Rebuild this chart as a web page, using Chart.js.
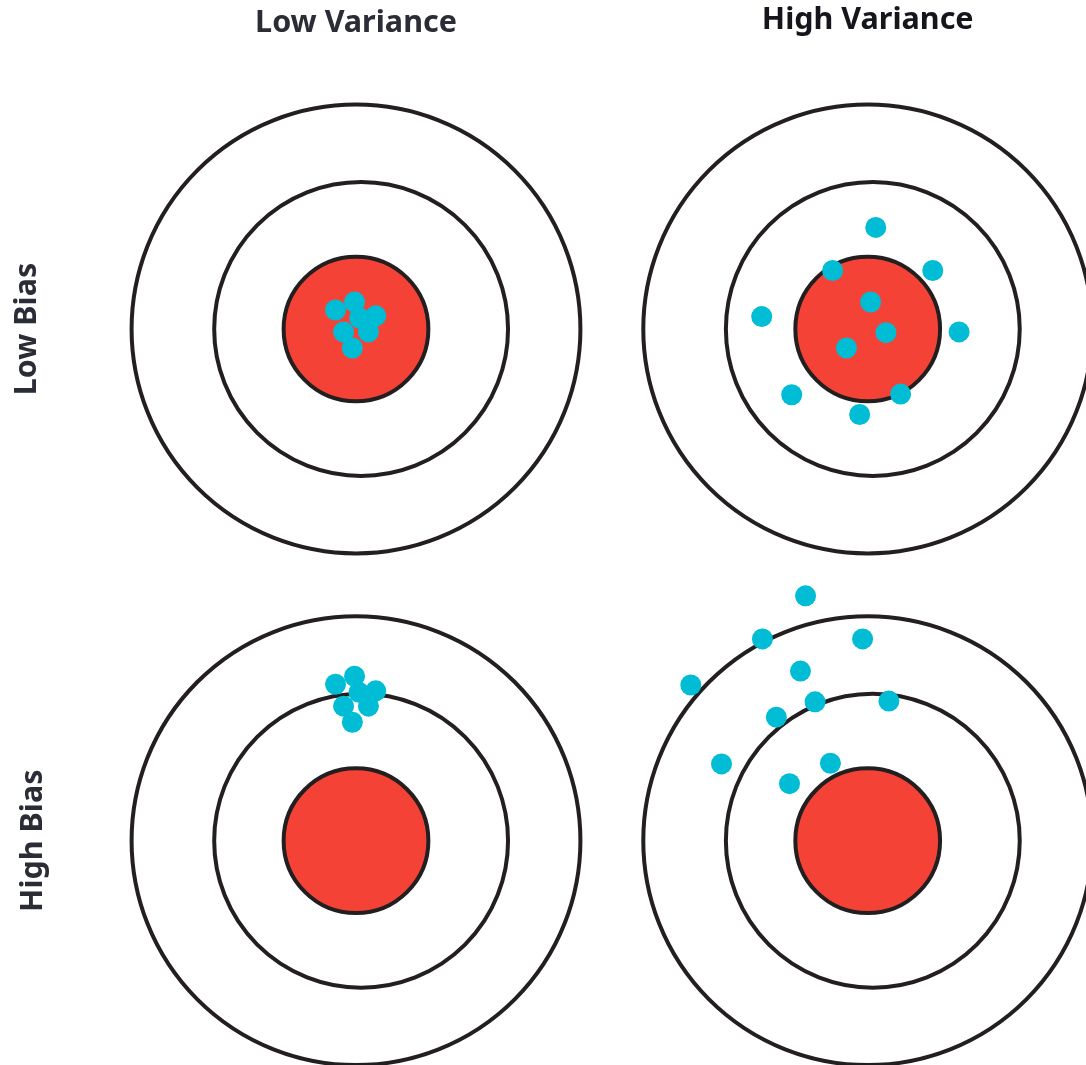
<!DOCTYPE html>
<html>
<head>
<meta charset="utf-8">
<script src="https://cdn.jsdelivr.net/npm/chart.js@4.4.0/dist/chart.umd.min.js"></script>
<style>
    html, body { margin: 0; padding: 0; background: #fff; }
    #wrap { width: 1086px; height: 1065px; }
</style>
</head>
<body>
<div id="wrap"><canvas id="targets" width="1086" height="1065"></canvas></div>
<script>
// headings
var colLabels = ['Low Variance', 'High Variance'];
var rowLabels = ['Low Bias', 'High Bias'];

// target centres in target units (1 unit = bullseye radius)
var colCenters = [0, 7];
var rowCenters = [0, -7];

// outer, middle, bullseye
var ringRadii = [3.07, 2.01, 0.99];
// the middle ring sits a little right of centre in the original
var ringShiftX = [0, 0.07, 0];

// shots, offsets from each target centre
var lowBiasLowVarX = [-0.28, -0.02, 0.27, 0.05, -0.17, 0.17, -0.05];
var lowBiasLowVarY = [0.26, 0.37, 0.18, 0.15, -0.04, -0.04, -0.26];

var lowBiasHighVarX = [0.11, -0.48, 0.89, 0.04, -1.45, 0.25, 1.25, -0.29, -1.04, 0.45, -0.11];
var lowBiasHighVarY = [1.39, 0.80, 0.80, 0.37, 0.17, -0.05, -0.04, -0.26, -0.90, -0.89, -1.17];

var highBiasLowVarX = [-0.28, -0.02, 0.27, 0.04, -0.17, 0.17, -0.05];
var highBiasLowVarY = [2.14, 2.25, 2.05, 2.03, 1.84, 1.84, 1.62];

var highBiasHighVarX = [-0.85, -1.44, -0.07, -2.42, -0.92, -0.72, 0.29, -1.25, -2.00, -0.51, -1.07];
var highBiasHighVarY = [3.35, 2.76, 2.76, 2.13, 2.32, 1.90, 1.91, 1.69, 1.05, 1.06, 0.78];

var ringColor = '#231f20';
var bullColor = '#f44336';
var shotColor = '#00bcd4';
var labelColors = ['#2a2c36', '#15161b'];

var pxPerUnit = 73.1;

function shiftShots(xs, ys, col, row) {
    var out = [];
    for (var i = 0; i < xs.length; i++) {
        out.push({ x: colCenters[col] + xs[i], y: rowCenters[row] + ys[i] });
    }
    return out;
}

function targetCenters(dx) {
    var out = [];
    for (var r = 0; r < rowCenters.length; r++) {
        for (var c = 0; c < colCenters.length; c++) {
            out.push({ x: colCenters[c] + dx, y: rowCenters[r] });
        }
    }
    return out;
}

var shots = []
    .concat(shiftShots(lowBiasLowVarX, lowBiasLowVarY, 0, 0))
    .concat(shiftShots(lowBiasHighVarX, lowBiasHighVarY, 1, 0))
    .concat(shiftShots(highBiasLowVarX, highBiasLowVarY, 0, 1))
    .concat(shiftShots(highBiasHighVarX, highBiasHighVarY, 1, 1));

// radius in pixels from the x scale
function ringRadius(units) {
    return function (ctx) {
        var s = ctx.chart.scales.x;
        return Math.abs(s.getPixelForValue(units) - s.getPixelForValue(0));
    };
}

function ringDataset(k, fill, order) {
    return {
        data: targetCenters(ringShiftX[k]),
        pointRadius: ringRadius(ringRadii[k]),
        pointHoverRadius: ringRadius(ringRadii[k]),
        backgroundColor: fill,
        borderColor: ringColor,
        borderWidth: 4,
        pointHoverBorderWidth: 4,
        clip: false,
        order: order
    };
}

// headings drawn next to the scale positions
var headings = {
    id: 'headings',
    afterDraw: function (chart) {
        var ctx = chart.ctx;
        var xs = chart.scales.x, ys = chart.scales.y;
        ctx.save();
        ctx.font = 'bold 30.5px "Noto Sans"';
        ctx.textAlign = 'center';
        ctx.textBaseline = 'middle';
        for (var i = 0; i < colLabels.length; i++) {
            ctx.fillStyle = labelColors[i];
            ctx.fillText(colLabels[i], xs.getPixelForValue(colCenters[i]), 23 - i * 3);
        }
        for (var j = 0; j < rowLabels.length; j++) {
            ctx.save();
            ctx.fillStyle = labelColors[0];
            ctx.translate(27 + j * 6, ys.getPixelForValue(rowCenters[j]));
            ctx.rotate(-Math.PI / 2);
            ctx.fillText(rowLabels[j], 0, 0);
            ctx.restore();
        }
        ctx.restore();
    }
};

var canvas = document.getElementById('targets');
var chart = new Chart(canvas.getContext('2d'), {
    type: 'scatter',
    data: {
        datasets: [
            {
                data: shots,
                pointRadius: 10.5,
                pointHoverRadius: 10.5,
                backgroundColor: shotColor,
                borderWidth: 0,
                clip: false,
                order: 1
            },
            ringDataset(2, bullColor, 2),
            ringDataset(1, '#ffffff', 3),
            ringDataset(0, '#ffffff', 4)
        ]
    },
    options: {
        responsive: false,
        animation: false,
        events: [],
        layout: { padding: 0, autoPadding: false },
        plugins: {
            legend: { display: false },
            tooltip: { enabled: false }
        },
        scales: {
            x: { display: false, bounds: 'data', min: -356 / pxPerUnit, max: 730 / pxPerUnit },
            y: { display: false, bounds: 'data', min: -736 / pxPerUnit, max: 329 / pxPerUnit }
        }
    },
    plugins: [headings]
});
</script>
</body>
</html>
